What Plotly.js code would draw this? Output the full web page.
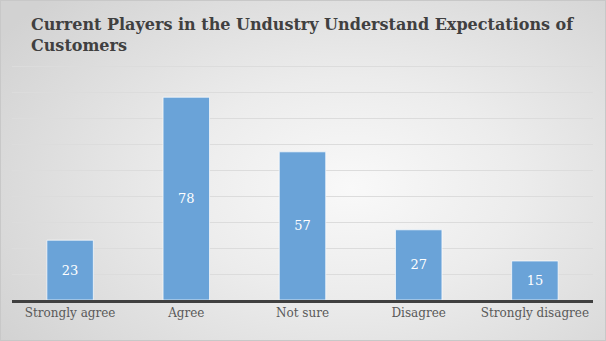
<!DOCTYPE html>
<html>
<head>
<meta charset="utf-8">
<script src="https://cdn.plot.ly/plotly-3.0.1.min.js"></script>
<style>
html,body{margin:0;padding:0;}
#chart{width:606px;height:341px;box-sizing:border-box;border:1px solid #c8c8c8;
background: radial-gradient(ellipse 70% 80% at 58% 55%, #f9f9f9 0%, #ececec 40%, #d2d2d2 100%);}
</style>
</head>
<body>
<div id="chart"></div>
<script>
const categories = ["Strongly agree", "Agree", "Not sure", "Disagree", "Strongly disagree"];
const values = [23, 78, 57, 27, 15];
const titleText = "Current Players in the Undustry Understand Expectations of<br>Customers";

const trace = {
  type: "bar",
  x: categories,
  y: values,
  text: values.map(String),
  textposition: "inside",
  insidetextanchor: "middle",
  textfont: {family: "DejaVu Serif", size: 13, color: "#ffffff"},
  marker: {color: "#6aa3d8", line: {color: "rgba(255,255,255,0.7)", width: 1}},
  hoverinfo: "none"
};

const layout = {
  width: 604, height: 339,
  paper_bgcolor: "rgba(0,0,0,0)",
  plot_bgcolor: "rgba(0,0,0,0)",
  margin: {l: 11, r: 12, t: 64, b: 40},
  bargap: 0.6,
  showlegend: false,
  title: {
    text: titleText,
    x: 0, xref: "paper", xanchor: "left",
    y: 0.913, yanchor: "top",
    pad: {l: 19},
    font: {family: "DejaVu Serif", size: 16, color: "#404040", weight: "bold"}
  },
  xaxis: {
    type: "category",
    showgrid: false,
    showline: true, linecolor: "#404040", linewidth: 3,
    ticks: "",
    tickfont: {family: "DejaVu Serif", size: 12, color: "#595959"},
    fixedrange: true
  },
  yaxis: {
    range: [0, 90.4],
    dtick: 10,
    showgrid: true, gridcolor: "#dcdcdc", gridwidth: 1,
    showticklabels: false,
    zeroline: false,
    showline: false,
    fixedrange: true
  }
};

Plotly.newPlot("chart", [trace], layout, {displayModeBar: false, staticPlot: true});
</script>
</body>
</html>
